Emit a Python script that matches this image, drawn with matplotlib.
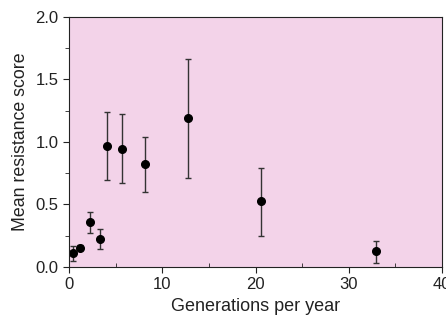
import matplotlib
matplotlib.use("Agg")
import matplotlib.pyplot as plt
from matplotlib.ticker import MultipleLocator

# Values
gens = [0.4, 1.2, 2.2, 3.3, 4.1, 5.7, 8.1, 12.7, 20.6, 32.9]
score = [0.11, 0.155, 0.36, 0.225, 0.97, 0.94, 0.82, 1.19, 0.525, 0.125]
err_lo = [0.06, 0.02, 0.085, 0.078, 0.275, 0.27, 0.22, 0.475, 0.28, 0.095]
err_hi = [0.06, 0.02, 0.08, 0.078, 0.27, 0.28, 0.22, 0.47, 0.27, 0.085]

plt.rcParams['font.family'] = ['Liberation Sans', 'DejaVu Sans']

fig = plt.figure(figsize=(4.46, 3.16), dpi=100)
ax = fig.add_axes([0.155, 0.155, 0.836, 0.792])
ax.set_facecolor("#f3d3e9")

ax.errorbar(gens, score, yerr=[err_lo, err_hi], fmt="o", color="black",
            ecolor="#333333", elinewidth=1.0, capsize=2, capthick=1.0,
            markersize=5.5)

ax.set_xlim(0, 40)
ax.set_ylim(0, 2.0)
ax.xaxis.set_major_locator(MultipleLocator(10))
ax.xaxis.set_minor_locator(MultipleLocator(5))
ax.yaxis.set_major_locator(MultipleLocator(0.5))
ax.yaxis.set_minor_locator(MultipleLocator(0.25))
ax.yaxis.set_major_formatter(matplotlib.ticker.FormatStrFormatter("%.1f"))
ax.tick_params(which="major", direction="out", length=4, labelsize=12, colors="#222222")
ax.tick_params(axis="x", which="minor", direction="in", length=3, color="#222222")
ax.tick_params(axis="y", which="minor", direction="out", length=3, color="#222222")
for s in ax.spines.values():
    s.set_color("#222222")

ax.set_xlabel("Generations per year", fontsize=13, color="#222222", labelpad=4)
ax.set_ylabel("Mean resistance score", fontsize=12.8, color="#222222", labelpad=5)

fig.savefig("out.png", dpi=100)
